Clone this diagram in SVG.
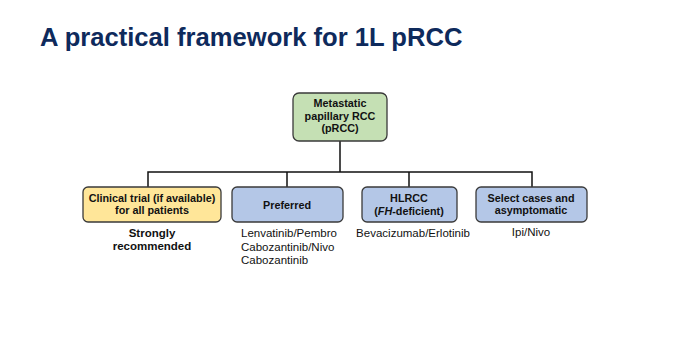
<svg xmlns="http://www.w3.org/2000/svg" width="680" height="350" viewBox="0 0 680 350">
<style>
.t{font-family:"Liberation Sans",Arial,sans-serif;font-size:11.5px;fill:#111;text-anchor:middle}
.b{font-weight:bold}
.s{font-size:10.8px}
.box{stroke:#3a3a3a;stroke-width:1.3}
.ln{stroke:#111;stroke-width:1.5;fill:none}
</style>
<rect width="680" height="350" fill="#fff"/>
<text x="40" y="46" style="font-family:'Liberation Sans',Arial,sans-serif;font-size:25.6px;font-weight:bold;fill:#0e2a5c">A practical framework for 1L pRCC</text>
<g id="connectors">
<path class="ln" d="M340 141V172M148 187V172H532V187M287 172V187M409 172V187"/>
</g>
<g id="root">
<rect class="box" x="293" y="93" width="94" height="48" rx="6" fill="#c5e0b4"/>
<text class="t b s" x="340" y="107">Metastatic</text>
<text class="t b s" x="340" y="119.5">papillary RCC</text>
<text class="t b s" x="340" y="132">(pRCC)</text>
</g>
<g id="clinical">
<rect class="box" x="83" y="187" width="138" height="35" rx="5" fill="#ffe699"/>
<text class="t b s" x="152" y="201.5">Clinical trial (if available)</text>
<text class="t b s" x="152" y="214">for all patients</text>
<text class="t b" x="152" y="237">Strongly</text>
<text class="t b" x="152" y="250">recommended</text>
</g>
<g id="preferred">
<rect class="box" x="232" y="187" width="111" height="35" rx="5" fill="#b4c7e7"/>
<text class="t b s" x="287" y="209">Preferred</text>
<text class="t" x="241" y="237" style="text-anchor:start">Lenvatinib/Pembro</text>
<text class="t" x="241" y="250.5" style="text-anchor:start">Cabozantinib/Nivo</text>
<text class="t" x="241" y="264" style="text-anchor:start">Cabozantinib</text>
</g>
<g id="hlrcc">
<rect class="box" x="362" y="187" width="95" height="35" rx="5" fill="#b4c7e7"/>
<text class="t b s" x="409" y="201.5">HLRCC</text>
<text class="t b s" x="409" y="214.5">(<tspan font-style="italic">FH</tspan>-deficient)</text>
<text class="t" x="413" y="237">Bevacizumab/Erlotinib</text>
</g>
<g id="select">
<rect class="box" x="476" y="187" width="111" height="35" rx="5" fill="#b4c7e7"/>
<text class="t b s" x="531" y="201.5">Select cases and</text>
<text class="t b s" x="531" y="214">asymptomatic</text>
<text class="t" x="531" y="236">Ipi/Nivo</text>
</g>
</svg>
